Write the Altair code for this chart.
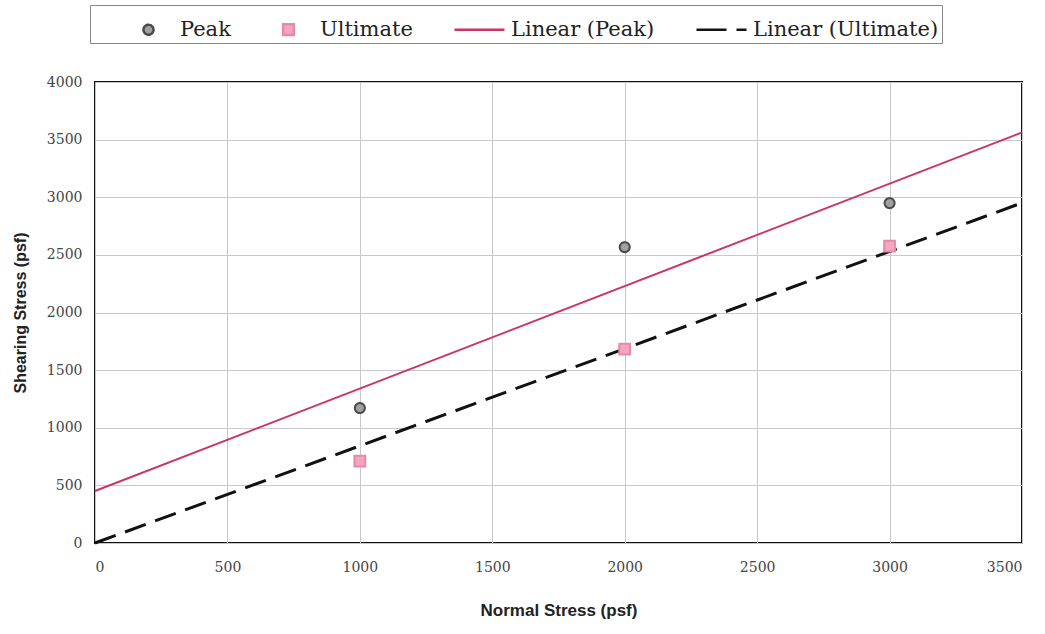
import altair as alt
import numpy as np
import pandas as pd

# ---- data ----
normal_stress = [1000, 2000, 3000]
peak_shear = [1171, 2567, 2949]
ultimate_shear = [711, 1683, 2576]
series_names = ["Peak", "Ultimate", "Linear (Peak)", "Linear (Ultimate)"]
x_ticks = [0, 500, 1000, 1500, 2000, 2500, 3000, 3500]
y_ticks = [0, 500, 1000, 1500, 2000, 2500, 3000, 3500, 4000]
x_extent = [0, 3500]

# ---- styles ----
# symbols drawn inside a 40px box (size 1600): small circle / square, 50px line
circle_path = "M0,-0.25A0.25,0.25,0,1,1,0,0.25A0.25,0.25,0,1,1,0,-0.25Z"
square_path = "M-0.27,-0.27H0.27V0.27H-0.27Z"
line_path = "M-1.25,0H1.25"
fills = ["#a0a0a0", "#f4a6bf", "transparent", "transparent"]
strokes = ["#4a4a4a", "#e58aa8", "#cc3366", "#111111"]
shapes = [circle_path, square_path, line_path, line_path]
dashes = [[1, 0], [1, 0], [1, 0], [30, 10]]

pts = pd.DataFrame({
    "x": normal_stress * 2,
    "y": peak_shear + ultimate_shear,
    "series": ["Peak"] * 3 + ["Ultimate"] * 3,
})

# Excel-style trendlines: Peak ordinary least squares, Ultimate through origin
xs = np.array(normal_stress, dtype=float)
slope_p, int_p = np.polyfit(xs, np.array(peak_shear, dtype=float), 1)
slope_u = float(np.sum(xs * np.array(ultimate_shear)) / np.sum(xs ** 2))
ext = np.array(x_extent, dtype=float)
peak_line = pd.DataFrame({"x": ext, "y": slope_p * ext + int_p})
ult_line = pd.DataFrame({"x": ext, "y": slope_u * ext})

tick_font = "DejaVu Serif"
title_font = "Liberation Sans"

x_enc = alt.X(
    "x:Q",
    scale=alt.Scale(domain=[0, 3500], nice=False, zero=False),
    axis=alt.Axis(
        values=x_ticks, title="Normal Stress (psf)", format="d",
        labelFont=tick_font, labelFontSize=14, labelColor="#444",
        labelPadding=17, ticks=False, domain=False,
        gridColor="#c8c8c8", gridWidth=1,
        titleFont=title_font, titleFontSize=17, titleFontWeight="bold",
        titleColor="#222", titlePadding=28,
    ),
)
y_enc = alt.Y(
    "y:Q",
    scale=alt.Scale(domain=[0, 4000], nice=False),
    axis=alt.Axis(
        values=y_ticks, title="Shearing Stress (psf)", format="d",
        labelFont=tick_font, labelFontSize=14, labelColor="#444",
        labelPadding=13, ticks=False, domain=False,
        gridColor="#c8c8c8", gridWidth=1,
        titleFont=title_font, titleFontSize=16, titleFontWeight="bold",
        titleColor="#222", titlePadding=18,
    ),
)

line_peak = alt.Chart(peak_line).mark_line(color="#cc3366", strokeWidth=2).encode(x=x_enc, y=y_enc)
line_ult = alt.Chart(ult_line).mark_line(
    color="#111111", strokeWidth=3, strokeDash=[22, 10]
).encode(x=x_enc, y=y_enc)

dom = series_names
leg_title = " "
nb = "\u00a0" * 6
label_expr = "datum.label == 'Linear (Ultimate)' ? datum.label + '" + nb + "' : datum.label"


def leg():
    return alt.Legend(labelExpr=label_expr)


points = alt.Chart(pts).mark_point(opacity=1, size=1600).encode(
    x=x_enc,
    y=y_enc,
    fill=alt.Fill("series:N", title=leg_title, legend=leg(), scale=alt.Scale(domain=dom, range=fills)),
    stroke=alt.Stroke("series:N", title=leg_title, legend=leg(), scale=alt.Scale(domain=dom, range=strokes)),
    shape=alt.Shape("series:N", title=leg_title, legend=leg(), scale=alt.Scale(domain=dom, range=shapes)),
    strokeDash=alt.StrokeDash("series:N", title=leg_title, legend=leg(), scale=alt.Scale(domain=dom, range=dashes)),
)

chart = (
    alt.layer(line_peak, line_ult, points)
    .properties(
        width=927,
        height=461,
        autosize=alt.AutoSizeParams(type="none"),
        padding={"left": 95, "top": 82, "right": 23, "bottom": 91},
        background="white",
    )
    .configure_view(stroke="#111111", strokeWidth=2)
    .configure_legend(
        orient="none",
        legendX=-5,
        legendY=-77,
        direction="horizontal",
        titleOrient="left",
        titleFontSize=11,
        titlePadding=34,
        labelFont=tick_font,
        labelFontSize=21,
        labelColor="#222",
        labelOffset=10,
        columnPadding=36,
        padding=3,
        symbolSize=1600,
        symbolStrokeWidth=2.5,
        strokeColor="#888888",
        fillColor="white",
        labelLimit=400,
    )
)

chart.save("out.html", embed_options={"renderer": "svg", "actions": False})
